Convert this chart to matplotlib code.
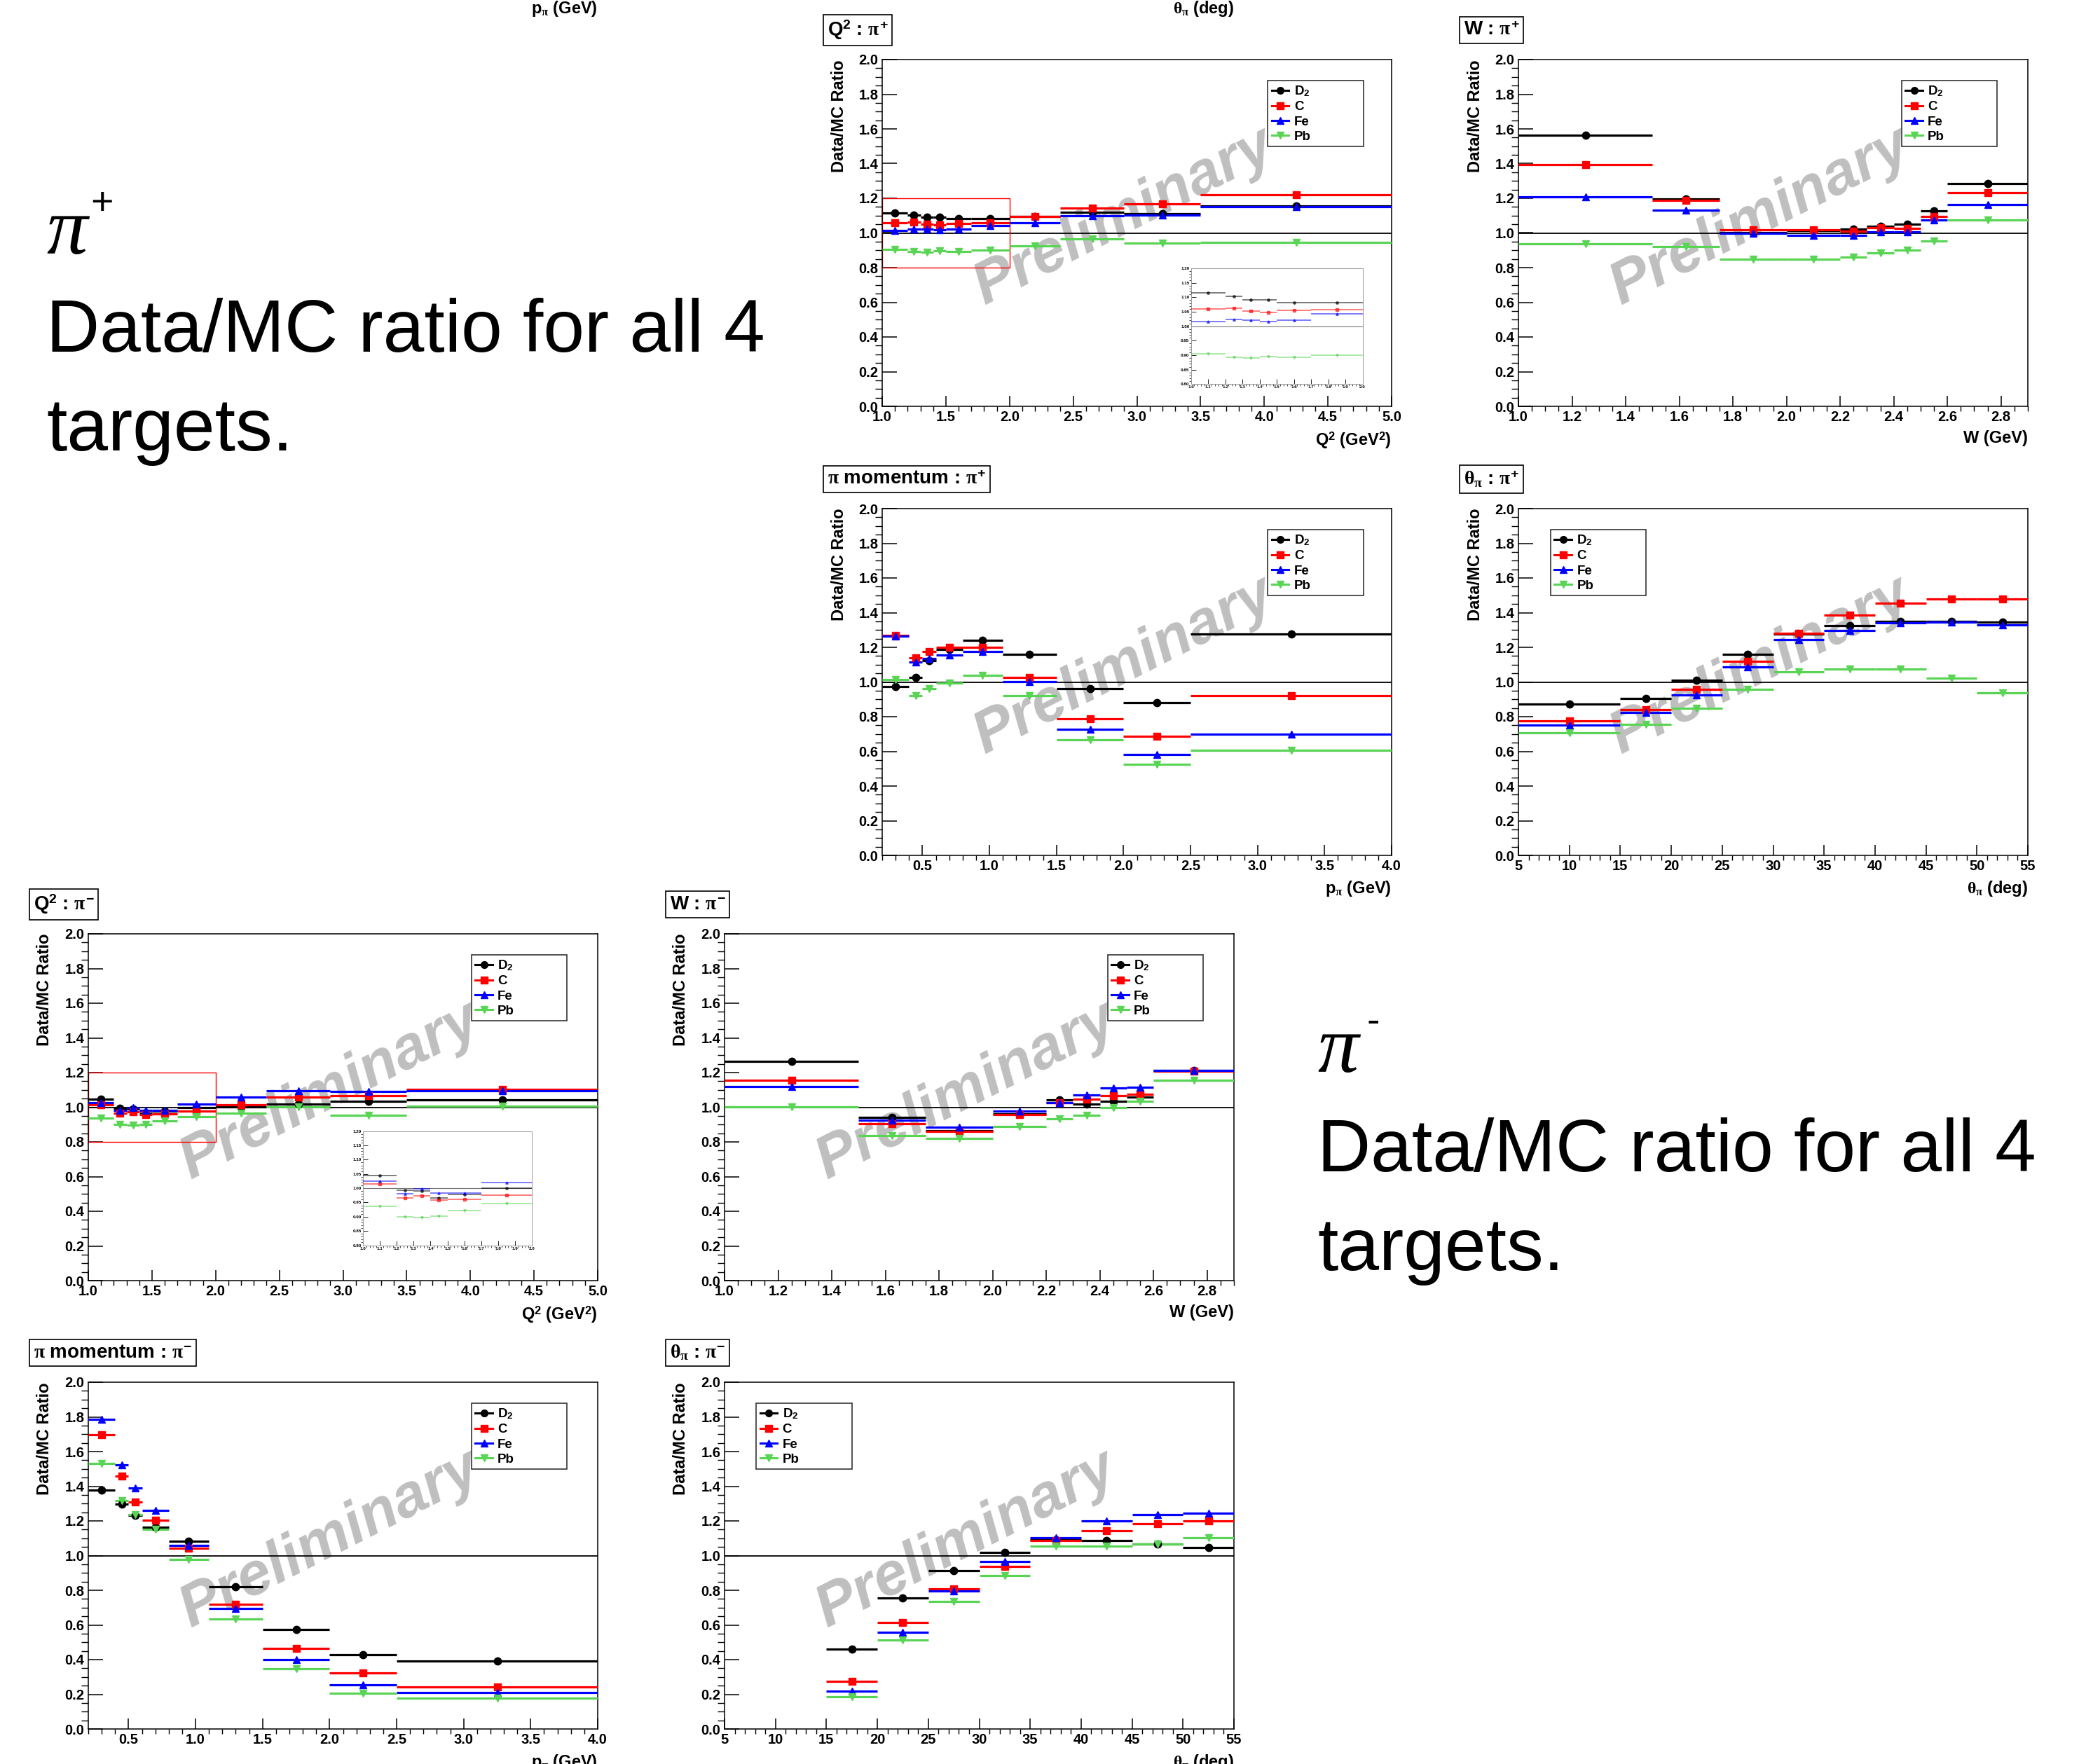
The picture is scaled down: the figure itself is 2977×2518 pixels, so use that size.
import matplotlib
matplotlib.use("Agg")
import matplotlib.pyplot as plt
from matplotlib.lines import Line2D
from matplotlib.patches import Rectangle
from matplotlib.ticker import MultipleLocator, FormatStrFormatter

plt.rcParams['font.family'] = 'Liberation Sans'
plt.rcParams['font.weight'] = 'bold'
plt.rcParams['mathtext.fontset'] = 'custom'
plt.rcParams['mathtext.rm'] = 'Liberation Sans:bold'
plt.rcParams['mathtext.bf'] = 'Liberation Sans:bold'
plt.rcParams['mathtext.sf'] = 'Liberation Sans:bold'
plt.rcParams['mathtext.it'] = 'Liberation Serif'
plt.rcParams['axes.linewidth'] = 1.1

# ---- data ----
targets = ['D$_{2}$', 'C', 'Fe', 'Pb']
colors = ['black', 'red', 'blue', '#59d454']
markers = ['o', 's', '^', 'v']

q2_edges = [1.0, 1.2, 1.3, 1.4, 1.5, 1.7, 2.0, 2.4, 2.9, 3.5, 5.0]
w_edges = [1.0, 1.5, 1.75, 2.0, 2.2, 2.3, 2.4, 2.5, 2.6, 2.9]
p_edges = [0.2, 0.4, 0.5, 0.6, 0.8, 1.1, 1.5, 2.0, 2.5, 4.0]
th_pip_edges = [5, 15, 20, 25, 30, 35, 40, 45, 50, 55]
th_pim_edges = [15, 20, 25, 30, 35, 40, 45, 50, 55]

q2_pip_D2 = [1.116, 1.103, 1.091, 1.091, 1.081, 1.082, 1.095, 1.118, 1.110, 1.155]
q2_pip_C = [1.060, 1.062, 1.052, 1.047, 1.054, 1.058, 1.096, 1.145, 1.167, 1.219]
q2_pip_Fe = [1.015, 1.024, 1.021, 1.017, 1.021, 1.043, 1.059, 1.101, 1.105, 1.150]
q2_pip_Pb = [0.905, 0.893, 0.890, 0.896, 0.892, 0.901, 0.924, 0.966, 0.941, 0.944]

w_pip_D2 = [1.565, 1.194, 1.002, 1.013, 1.024, 1.037, 1.051, 1.127, 1.284]
w_pip_C = [1.395, 1.187, 1.019, 1.019, 1.012, 1.030, 1.025, 1.093, 1.231]
w_pip_Fe = [1.208, 1.130, 0.997, 0.987, 0.987, 1.007, 1.005, 1.073, 1.165]
w_pip_Pb = [0.939, 0.922, 0.848, 0.848, 0.860, 0.885, 0.900, 0.954, 1.076]

p_pip_D2 = [0.972, 1.027, 1.123, 1.186, 1.239, 1.159, 0.962, 0.882, 1.276]
p_pip_C = [1.270, 1.141, 1.176, 1.198, 1.198, 1.028, 0.789, 0.686, 0.920]
p_pip_Fe = [1.266, 1.116, 1.136, 1.154, 1.174, 1.003, 0.729, 0.580, 0.698]
p_pip_Pb = [1.013, 0.922, 0.963, 0.992, 1.037, 0.920, 0.666, 0.526, 0.608]

th_pip_D2 = [0.871, 0.907, 1.010, 1.159, 1.275, 1.324, 1.349, 1.350, 1.345]
th_pip_C = [0.776, 0.842, 0.959, 1.118, 1.280, 1.387, 1.455, 1.478, 1.478]
th_pip_Fe = [0.751, 0.824, 0.925, 1.085, 1.244, 1.297, 1.340, 1.345, 1.330]
th_pip_Pb = [0.708, 0.756, 0.847, 0.959, 1.060, 1.075, 1.075, 1.023, 0.937]

q2_pim_D2 = [1.045, 0.994, 0.990, 0.967, 0.978, 0.999, 1.003, 1.018, 1.034, 1.041]
q2_pim_C = [1.016, 0.965, 0.973, 0.959, 0.960, 0.976, 1.015, 1.059, 1.067, 1.103]
q2_pim_Fe = [1.025, 0.981, 0.997, 0.983, 0.983, 1.020, 1.057, 1.095, 1.090, 1.096]
q2_pim_Pb = [0.937, 0.899, 0.897, 0.901, 0.921, 0.945, 0.967, 1.003, 0.953, 1.008]

w_pim_D2 = [1.264, 0.941, 0.863, 0.962, 1.041, 1.018, 1.033, 1.057, 1.211]
w_pim_C = [1.157, 0.904, 0.861, 0.956, 1.028, 1.046, 1.067, 1.073, 1.207]
w_pim_Fe = [1.119, 0.925, 0.884, 0.977, 1.028, 1.072, 1.111, 1.116, 1.211]
w_pim_Pb = [1.003, 0.838, 0.819, 0.887, 0.935, 0.953, 0.998, 1.036, 1.157]

p_pim_D2 = [1.377, 1.297, 1.232, 1.165, 1.082, 0.819, 0.572, 0.429, 0.391]
p_pim_C = [1.695, 1.457, 1.309, 1.206, 1.043, 0.720, 0.466, 0.322, 0.244]
p_pim_Fe = [1.785, 1.524, 1.388, 1.261, 1.059, 0.695, 0.402, 0.253, 0.212]
p_pim_Pb = [1.532, 1.318, 1.238, 1.152, 0.979, 0.635, 0.349, 0.207, 0.178]

th_pim_D2 = [0.460, 0.757, 0.915, 1.018, 1.090, 1.086, 1.066, 1.048]
th_pim_C = [0.274, 0.615, 0.810, 0.938, 1.088, 1.145, 1.185, 1.198]
th_pim_Fe = [0.217, 0.557, 0.797, 0.965, 1.104, 1.201, 1.237, 1.245]
th_pim_Pb = [0.185, 0.512, 0.736, 0.886, 1.056, 1.056, 1.066, 1.104]

# ---- figure ----
W, H = 2977, 2518
fig = plt.figure(figsize=(W / 100, H / 100), dpi=100)

AW, AH = 727, 495  # axes size in px


def px_axes(left, top):
    return fig.add_axes([left / W, 1 - (top + AH) / H, AW / W, AH / H])


def draw_set(ax, edges, series, ms=7.5, lw=2.3, alpha=1.0):
    centers = [(a + b) / 2 for a, b in zip(edges[:-1], edges[1:])]
    halfw = [(b - a) / 2 for a, b in zip(edges[:-1], edges[1:])]
    for vals, c, m in zip(series, colors, markers):
        n = len(vals)
        ax.errorbar(centers[:n], vals, xerr=halfw[:n], fmt=m, color=c, ms=ms,
                    lw=lw, capsize=0, alpha=alpha, zorder=3)


def panel(left, top, title, edges, series, xlim, xmaj, xmin, xfmt, xlabel,
          leg_x0, inset=None):
    ax = px_axes(left, top)
    ax.set_xlim(*xlim)
    ax.set_ylim(0, 2.0)
    ax.xaxis.set_major_locator(MultipleLocator(xmaj))
    ax.xaxis.set_minor_locator(MultipleLocator(xmin))
    ax.xaxis.set_major_formatter(FormatStrFormatter(xfmt))
    ax.yaxis.set_major_locator(MultipleLocator(0.2))
    ax.yaxis.set_minor_locator(MultipleLocator(0.05))
    ax.yaxis.set_major_formatter(FormatStrFormatter('%.1f'))
    ax.tick_params(direction='in', top=False, right=False, labelsize=14.5,
                   width=1.1, pad=4)
    ax.tick_params(axis='y', which='major', length=15)
    ax.tick_params(axis='y', which='minor', length=7.5, width=1.0)
    ax.tick_params(axis='x', which='major', length=11)
    ax.tick_params(axis='x', which='minor', length=5, width=1.0)

    ax.text(0.475, 0.545, 'Preliminary', transform=ax.transAxes, rotation=27,
            fontsize=62, style='italic', color='#bfbfbf', ha='center',
            va='center', zorder=1)
    ax.axhline(1.0, color='black', lw=1.3, zorder=2)
    draw_set(ax, edges, series)

    handles = [Line2D([], [], color=c, marker=m, ms=7, lw=2.2)
               for c, m in zip(colors, markers)]
    leg = ax.legend(handles, targets, loc='upper left',
                    bbox_to_anchor=(leg_x0, 0.748, 0.188, 0.192), mode='expand',
                    borderaxespad=0, fontsize=13.5, fancybox=False,
                    edgecolor='black', facecolor='none', handlelength=1.3,
                    handletextpad=0.4, labelspacing=0.22, borderpad=0.3)
    leg.get_frame().set_linewidth(1.2)

    ax.text(-62 / AW, 1.0, 'Data/MC Ratio', rotation=90, ha='center', va='top',
            fontsize=17, transform=ax.transAxes)
    ax.text(1.0, -34 / AH, xlabel, ha='right', va='top', fontsize=17,
            transform=ax.transAxes)
    fig.text((left - 83 + 5) / W, 1 - (top - 42) / H, title, fontsize=20,
             ha='left', va='center',
             bbox=dict(boxstyle='square,pad=0.2', fc='white', ec='black', lw=1.2))

    if inset is not None:
        ax.add_patch(Rectangle((1.0, 0.8), 1.0, 0.4, fill=False, ec='red',
                               lw=1.0, zorder=2))
        ins = ax.inset_axes(inset)
        ins.set_xlim(1.0, 2.0)
        ins.set_ylim(0.8, 1.2)
        ins.axhline(1.0, color='#777777', lw=0.8)
        draw_set(ins, edges, [s[:6] for s in series], ms=2.5, lw=1.2, alpha=0.6)
        ins.xaxis.set_major_locator(MultipleLocator(0.1))
        ins.xaxis.set_minor_locator(MultipleLocator(0.02))
        ins.yaxis.set_major_locator(MultipleLocator(0.05))
        ins.yaxis.set_minor_locator(MultipleLocator(0.01))
        ins.xaxis.set_major_formatter(FormatStrFormatter('%.1f'))
        ins.yaxis.set_major_formatter(FormatStrFormatter('%.2f'))
        ins.tick_params(direction='in', top=False, right=False, labelsize=4.5,
                        width=0.6, length=5, pad=1.5)
        ins.tick_params(which='minor', length=2.5, width=0.5)
        for sp in ins.spines.values():
            sp.set_color('#999999')
            sp.set_linewidth(0.7)
    return ax


colA, colB, colC, colD = 1259, 2167, 126, 1034
row1, row2, row3, row4 = 85, 726, 1333, 1973
q2_label = 'Q$^{2}$ (GeV$^{2}$)'
w_label = 'W (GeV)'
p_label = 'p$_{\\pi}$ (GeV)'
th_label = '$\\theta_{\\pi}$ (deg)'

panel(colA, row1, 'Q$^{2}$ : $\\pi^{+}$', q2_edges,
      [q2_pip_D2, q2_pip_C, q2_pip_Fe, q2_pip_Pb], (1.0, 5.0), 0.5, 0.1, '%.1f',
      q2_label, 0.757, inset=[0.606, 0.064, 0.337, 0.334])
panel(colB, row1, 'W : $\\pi^{+}$', w_edges,
      [w_pip_D2, w_pip_C, w_pip_Fe, w_pip_Pb], (1.0, 2.9), 0.2, 0.05, '%.1f',
      w_label, 0.752)
panel(colA, row2, '$\\pi$ momentum : $\\pi^{+}$', p_edges,
      [p_pip_D2, p_pip_C, p_pip_Fe, p_pip_Pb], (0.2, 4.0), 0.5, 0.1, '%.1f',
      p_label, 0.757)
panel(colB, row2, '$\\theta_{\\pi}$ : $\\pi^{+}$', th_pip_edges,
      [th_pip_D2, th_pip_C, th_pip_Fe, th_pip_Pb], (5, 55), 5, 1, '%d',
      th_label, 0.063)
panel(colC, row3, 'Q$^{2}$ : $\\pi^{-}$', q2_edges,
      [q2_pim_D2, q2_pim_C, q2_pim_Fe, q2_pim_Pb], (1.0, 5.0), 0.5, 0.1, '%.1f',
      q2_label, 0.752, inset=[0.539, 0.102, 0.332, 0.329])
panel(colD, row3, 'W : $\\pi^{-}$', w_edges,
      [w_pim_D2, w_pim_C, w_pim_Fe, w_pim_Pb], (1.0, 2.9), 0.2, 0.05, '%.1f',
      w_label, 0.752)
panel(colC, row4, '$\\pi$ momentum : $\\pi^{-}$', p_edges,
      [p_pim_D2, p_pim_C, p_pim_Fe, p_pim_Pb], (0.2, 4.0), 0.5, 0.1, '%.1f',
      p_label, 0.752)
panel(colD, row4, '$\\theta_{\\pi}$ : $\\pi^{-}$', th_pim_edges,
      [th_pim_D2, th_pim_C, th_pim_Fe, th_pim_Pb], (5, 55), 5, 1, '%d',
      th_label, 0.062)

# axis titles of the panels cut off above the top edge
fig.text(853 / W, 1 - 19 / H, p_label, ha='right', va='baseline', fontsize=17)
fig.text(1761 / W, 1 - 19 / H, th_label, ha='right', va='baseline', fontsize=17)


def big_label(x, y_pi, y1, y2, sign):
    fig.text(x / W, 1 - y_pi / H, '\u03c0', family='Liberation Serif',
             style='italic', weight='normal', fontsize=84, ha='left', va='baseline')
    fig.text((x + 80) / W, 1 - (y_pi - 70) / H, sign, weight='normal',
             fontsize=40, ha='center', va='center')
    fig.text(x / W, 1 - y1 / H, 'Data/MC ratio for all 4', weight='normal',
             fontsize=76, ha='left', va='baseline')
    fig.text(x / W, 1 - y2 / H, 'targets.', weight='normal',
             fontsize=76, ha='left', va='baseline')


big_label(66, 362, 502, 643, '+')
big_label(1880, 1530, 1672, 1813, '-')

fig.savefig('out.png', dpi=100)
